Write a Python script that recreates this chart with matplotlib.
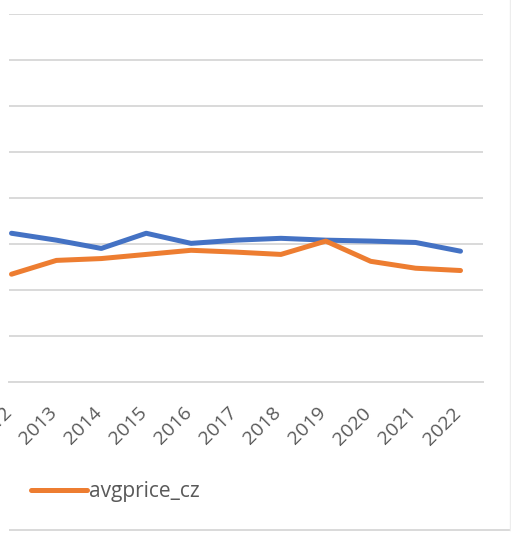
import matplotlib
matplotlib.use("Agg")
import matplotlib.pyplot as plt
from matplotlib.lines import Line2D
from matplotlib.transforms import ScaledTranslation

years = ["2012", "2013", "2014", "2015", "2016", "2017", "2018", "2019", "2020", "2021", "2022"]
avgprice_other = [3.24, 3.09, 2.91, 3.24, 3.02, 3.09, 3.13, 3.09, 3.07, 3.04, 2.85]
avgprice_cz = [2.35, 2.65, 2.69, 2.78, 2.87, 2.83, 2.78, 3.07, 2.63, 2.48, 2.43]
y_ticks = [0, 1, 2, 3, 4, 5, 6, 7, 8]

W, H = 511, 533
fig = plt.figure(figsize=(W / 100, H / 100), dpi=100)
fig.patch.set_facecolor("white")

left_px, right_px, top_px, bot_px = 9, 483, 14.3, 382.3
ax = fig.add_axes([left_px / W, (H - bot_px) / H, (right_px - left_px) / W, (bot_px - top_px) / H])

x = list(range(len(years)))
ax.plot(x, avgprice_other, color="#4472C4", lw=3.6, solid_capstyle="round", solid_joinstyle="round", zorder=3)
ln_cz, = ax.plot(x, avgprice_cz, color="#ED7D31", lw=3.6, solid_capstyle="round", solid_joinstyle="round", zorder=3)

first_px, last_px = 11.5, 460.5
spacing = (last_px - first_px) / 10
ax.set_xlim(-(first_px - left_px) / spacing, 10 + (right_px - last_px) / spacing)
ax.set_ylim(y_ticks[0], y_ticks[-1])
ax.set_yticks(y_ticks)
ax.yaxis.grid(True, color="#D9D9D9", lw=1.4)
ax.set_axisbelow(True)
ax.tick_params(axis="y", left=False, labelleft=False)
ax.tick_params(axis="x", bottom=False, length=0, pad=15.5)
for s in ["left", "right", "top"]:
    ax.spines[s].set_visible(False)
ax.spines["bottom"].set_color("#D9D9D9")
ax.spines["bottom"].set_linewidth(1.4)

ax.set_xticks(x)
ax.set_xticklabels(years, rotation=45, ha="right", va="top",
                   fontsize=14, color="#595959", family="Open Sans")
off = ScaledTranslation(4 / 100, 0, fig.dpi_scale_trans)
for lab in ax.get_xticklabels():
    lab.set_transform(lab.get_transform() + off)

fig.legend(handles=[ln_cz], labels=["avgprice_cz"], loc="center left",
           bbox_to_anchor=(31 / W, (H - 492) / H), frameon=False,
           handlelength=2.7, handletextpad=0.1, borderaxespad=0, borderpad=0,
           prop={"family": "Open Sans", "size": 15}, labelcolor="#595959")

fig.add_artist(Line2D([10 / W, 1.0], [(H - 530) / H] * 2, transform=fig.transFigure, color="#D9D9D9", lw=1.4))
fig.add_artist(Line2D([510 / W] * 2, [(H - 530) / H, 1.0], transform=fig.transFigure, color="#EDEDED", lw=1.0))

fig.savefig("out.png", dpi=100, facecolor="white")
